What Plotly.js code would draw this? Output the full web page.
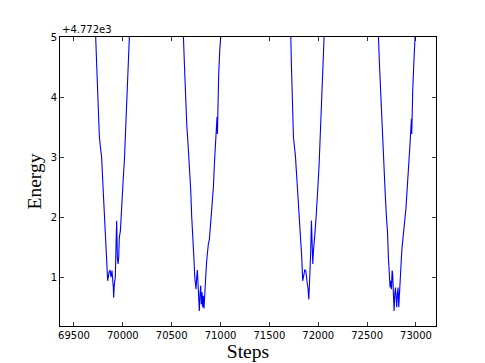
<!DOCTYPE html>
<html>
<head>
<meta charset="utf-8">
<script src="https://cdn.plot.ly/plotly-3.0.1.min.js"></script>
<style>
  html, body { margin: 0; padding: 0; background: #fff; }
  #chart { width: 485px; height: 363px; }
</style>
</head>
<body>
<div id="chart"></div>
<script>
// steps and energies (energy is absolute, axis shows offset from 4772)
const steps = [
  69357,
  69722, 69732, 69749, 69760, 69773, 69777, 69783, 69794, 69807, 69821, 69835, 69845,
  69859, 69869, 69879, 69889, 69903, 69906, 69913, 69923, 69930, 69937, 69944, 69951,
  69958, 69964, 69975, 69985, 69999, 70005, 70016, 70029, 70043, 70057, 70067,
  70340,
  70620, 70630, 70640, 70654, 70667, 70681, 70695, 70705, 70715, 70722, 70729, 70736,
  70742, 70749, 70756, 70763, 70770, 70777, 70783, 70790, 70797, 70804, 70811, 70817,
  70824, 70831, 70838, 70845, 70852, 70858, 70865, 70875, 70886, 70896, 70906, 70916,
  70927, 70937, 70947, 70957, 70964, 70968, 70971, 70981, 70992, 71002,
  71360,
  71719, 71725, 71732, 71746, 71760, 71766, 71780, 71794, 71807, 71821, 71831, 71841,
  71852, 71862, 71872, 71879, 71889, 71896, 71903, 71910, 71917, 71923, 71930, 71937,
  71944, 71951, 71958, 71968, 71978, 71988, 71998, 72009, 72019, 72029, 72043, 72053, 72060,
  72340,
  72616, 72626, 72640, 72653, 72667, 72677, 72687, 72698, 72708, 72718, 72728, 72735,
  72742, 72749, 72756, 72762, 72769, 72776, 72783, 72790, 72797, 72803, 72810, 72817,
  72824, 72831, 72838, 72844, 72851, 72858, 72865, 72875, 72885, 72896, 72906, 72916,
  72926, 72937, 72947, 72954, 72957, 72960, 72967, 72978, 72991,
  73205
];
const energy = [
  4779.5,
  4777.01, 4776.56, 4775.73, 4775.34, 4775.14, 4775.06, 4775.01, 4774.62, 4774.23, 4773.89, 4773.45, 4772.95,
  4773.09, 4773.13, 4773.01, 4773.12, 4772.84, 4772.67, 4772.89, 4773.01, 4773.51, 4773.95, 4773.34, 4773.23,
  4773.34, 4773.67, 4773.78, 4774.17, 4774.51, 4774.67, 4774.95, 4775.45, 4776.01, 4776.56, 4777.01,
  4779.5,
  4777.01, 4776.56, 4776.01, 4775.56, 4775.23, 4774.89, 4774.45, 4774.01, 4773.78, 4773.56, 4773.28, 4773.01,
  4772.84, 4772.81, 4773.01, 4773.13, 4772.89, 4772.67, 4772.45, 4772.73, 4772.87, 4772.56, 4772.76, 4772.51,
  4772.70, 4772.49, 4772.81, 4772.84, 4773.12, 4773.28, 4773.45, 4773.56, 4773.64, 4773.84, 4774.01, 4774.23,
  4774.51, 4774.89, 4775.23, 4775.45, 4775.67, 4775.39, 4775.78, 4776.39, 4776.78, 4777.01,
  4779.5,
  4777.01, 4776.56, 4776.12, 4775.34, 4775.12, 4775.03, 4774.67, 4774.34, 4774.01, 4773.67, 4773.34, 4772.95,
  4773.09, 4773.13, 4773.12, 4772.98, 4772.89, 4772.81, 4772.64, 4772.89, 4773.12, 4773.45, 4773.95, 4773.34,
  4773.23, 4773.45, 4773.67, 4773.78, 4774.01, 4774.39, 4774.56, 4774.89, 4775.28, 4775.84, 4776.45, 4776.84, 4777.01,
  4779.5,
  4777.01, 4776.56, 4776.01, 4775.45, 4775.12, 4774.78, 4774.34, 4774.01, 4773.78, 4773.34, 4773.01, 4772.84,
  4772.95, 4772.81, 4773.12, 4773.06, 4772.73, 4772.45, 4772.73, 4772.84, 4772.67, 4772.51, 4772.73, 4772.84,
  4772.51, 4772.78, 4772.89, 4773.12, 4773.34, 4773.51, 4773.67, 4773.78, 4773.95, 4774.12, 4774.34, 4774.56,
  4774.89, 4775.17, 4775.45, 4775.64, 4775.39, 4775.70, 4776.12, 4776.56, 4777.01,
  4779.5
];
const xTicks = [69500, 70000, 70500, 71000, 71500, 72000, 72500, 73000];
const yTicks = [4773, 4774, 4775, 4776, 4777];
const yTickText = ['1', '2', '3', '4', '5'];
const offsetLabel = '+4.772e3';

const tickFont = { family: 'DejaVu Sans, sans-serif', size: 10, color: '#000' };
const titleFont = { family: 'Liberation Serif, Times New Roman, serif', size: 19.5, color: '#000' };

const trace = {
  x: steps,
  y: energy,
  type: 'scatter',
  mode: 'lines',
  line: { color: '#0000ff', width: 1.1 },
  hoverinfo: 'x+y'
};

const axisBase = {
  showgrid: false,
  zeroline: false,
  showline: true,
  linecolor: '#000',
  linewidth: 1,
  mirror: 'ticks',
  ticks: 'inside',
  ticklen: 4,
  tickwidth: 0.8,
  tickcolor: '#000',
  tickfont: tickFont
};

const layout = {
  width: 485,
  height: 363,
  margin: { l: 60, r: 49, t: 37, b: 37 },
  paper_bgcolor: '#fff',
  plot_bgcolor: '#fff',
  showlegend: false,
  xaxis: {
    ...axisBase,
    range: [69357, 73205],
    tickvals: xTicks,
    ticktext: xTicks.map(String),
    title: { text: 'Steps', font: titleFont, standoff: 2 },
    automargin: false
  },
  yaxis: {
    ...axisBase,
    range: [4772.2, 4777],
    tickvals: yTicks,
    ticktext: yTickText,
    title: { text: 'Energy', font: titleFont, standoff: 3 },
    automargin: false
  },
  annotations: [{
    text: offsetLabel,
    xref: 'paper', yref: 'paper',
    x: 0, y: 1,
    xanchor: 'left', yanchor: 'bottom',
    showarrow: false,
    font: tickFont
  }]
};

Plotly.newPlot('chart', [trace], layout, { displayModeBar: false, staticPlot: true });
</script>
</body>
</html>
